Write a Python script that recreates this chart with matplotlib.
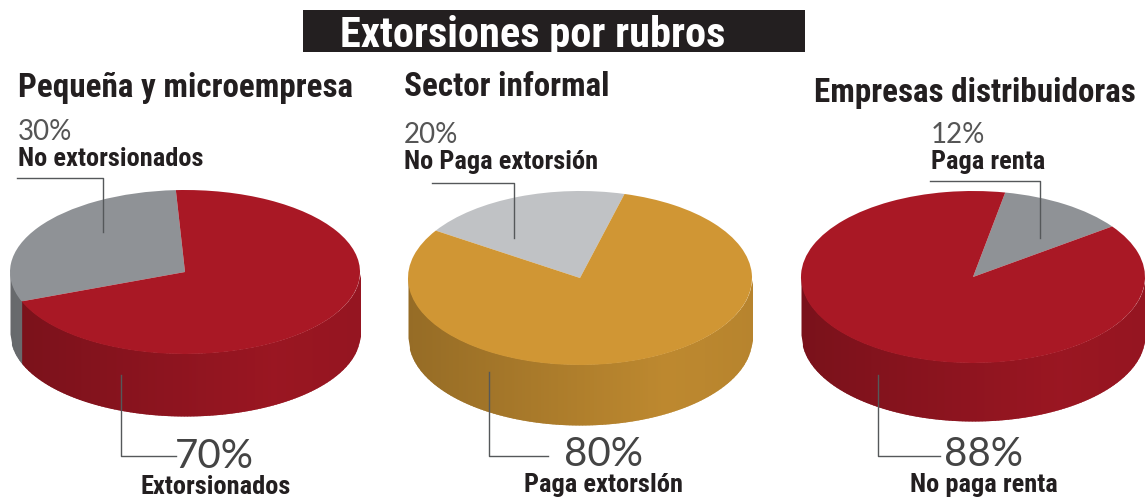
import numpy as np
import matplotlib
matplotlib.use("Agg")
import matplotlib.pyplot as plt
from matplotlib.colors import to_rgb
from matplotlib.patches import Rectangle

W, H = 1145, 499
title = "Extorsiones por rubros"
panel_titles = ["Pequeña y microempresa", "Sector informal", "Empresas distribuidoras"]
values_a = [30, 70]
values_b = [20, 80]
values_c = [12, 88]
labels_a = ["No extorsionados", "Extorsionados"]
labels_b = ["No Paga extorsión", "Paga extorsIón"]
labels_c = ["Paga renta", "No paga renta"]
colors_a = ["#8f9296", "#a91825"]
colors_b = ["#c0c2c5", "#d09634"]
colors_c = ["#8f9296", "#a91825"]
# start angle of the first (small) wedge, degrees; wedges run counter-clockwise
start_angles = [93, 75, 36]
# pixel geometry: centre x, centre y, radius x, radius y, depth
geom = [(185, 272, 175, 82, 62), (580, 278, 172, 87, 60), (973, 277, 172, 86, 58)]

BOLD = ["Liberation Sans Narrow", "Roboto Condensed", "Roboto", "DejaVu Sans"]
LIGHT = ["Lato", "Open Sans", "DejaVu Sans"]
INK = "#231f20"

fig = plt.figure(figsize=(W / 100, H / 100), dpi=100, facecolor="white")


def draw_pie(vals, cols, start, g):
    cx, cy, rx, ry, d = g
    bottom = cy + ry + d
    ax = fig.add_axes([(cx - rx) / W, 1 - bottom / H, 2 * rx / W, (ry * 2 + d) / H])
    total = sum(vals)
    # side wall, drawn as narrow strips
    xs = np.linspace(-1, 1, 241)
    dn = d / ry
    edges = np.cumsum([0] + list(vals)) / total * 360 + start
    for x0, x1 in zip(xs[:-1], xs[1:]):
        xm = (x0 + x1) / 2
        ang = np.degrees(np.arctan2(-np.sqrt(1 - xm * xm), xm)) % 360
        k = 0
        for i in range(len(vals)):
            a0, a1 = edges[i], edges[i + 1]
            if a0 <= ang < a1 or a0 <= ang + 360 < a1:
                k = i
        u = (xm + 1) / 2
        shade = 0.72 + 0.19 * min(1, u / 0.75) - 0.03 * max(0, (u - 0.75) / 0.25)
        c = tuple(np.array(to_rgb(cols[k])) * shade)
        xx = np.array([x0, x1 + 0.006])
        top = -np.sqrt(np.clip(1 - xx * xx, 0, 1))
        ax.fill_between(xx, top + 0.01, top - dn, color=c, lw=0, zorder=1)
    ax.pie(vals, colors=cols, startangle=start, counterclock=True, radius=1,
           wedgeprops={"linewidth": 0, "zorder": 2})
    ax.set_aspect("auto")
    ax.set_xlim(-1, 1)
    ax.set_ylim(-1 - dn, 1)
    ax.axis("off")


for v, c, s, g in zip([values_a, values_b, values_c],
                      [colors_a, colors_b, colors_c], start_angles, geom):
    draw_pie(v, c, s, g)

ov = fig.add_axes([0, 0, 1, 1], zorder=5)
ov.set_xlim(0, W)
ov.set_ylim(H, 0)
ov.axis("off")
ov.patch.set_alpha(0)

ov.add_patch(Rectangle((303, 10), 502, 42, color=INK, lw=0))
ov.text(533, 31, title, color="white", family=BOLD, weight="bold", fontsize=30.5,
        ha="center", va="center_baseline")

ov.text(18, 88, panel_titles[0], color=INK, family=BOLD, weight="bold", fontsize=23.9, ha="left", va="center")
ov.text(404, 87, panel_titles[1], color=INK, family=BOLD, weight="bold", fontsize=23.9, ha="left", va="center")
ov.text(814, 93, panel_titles[2], color=INK, family=BOLD, weight="bold", fontsize=23.9, ha="left", va="center")


def small(x, y, v, lab):
    ov.text(x, y, f"{v}%", color="#555555", family=LIGHT, weight="normal", fontsize=20, ha="left", va="center")
    ov.text(x, y + 27, lab, color=INK, family=BOLD, weight="bold", fontsize=19, ha="left", va="center")


def big(xc, y, v, lab, xlab):
    ov.text(xc, y, f"{v}%", color="#444444", family=LIGHT, weight="normal", fontsize=29, ha="center", va="center")
    ov.text(xlab, y + 30, lab, color=INK, family=BOLD, weight="bold", fontsize=19, ha="center", va="center")


small(18, 132, values_a[0], labels_a[0])
small(404, 135, values_b[0], labels_b[0])
small(931, 135, values_c[0], labels_c[0])
big(214, 457, values_a[1], labels_a[1], 216)
big(604, 455, values_b[1], labels_b[1], 604)
big(984, 455, values_c[1], labels_c[1], 984)

lc = "#55585a"
for xs_, ys_ in [((17, 103, 103), (178, 178, 232)),
                 ((121, 121, 176), (375, 456, 456)),
                 ((432, 514, 514), (183, 183, 238)),
                 ((489, 489, 548), (372, 456, 456)),
                 ((930, 1040, 1040), (181, 181, 238)),
                 ((878, 878, 940), (375, 456, 456))]:
    ov.plot(xs_, ys_, color=lc, lw=1.0)

fig.savefig("out.png", dpi=100)
